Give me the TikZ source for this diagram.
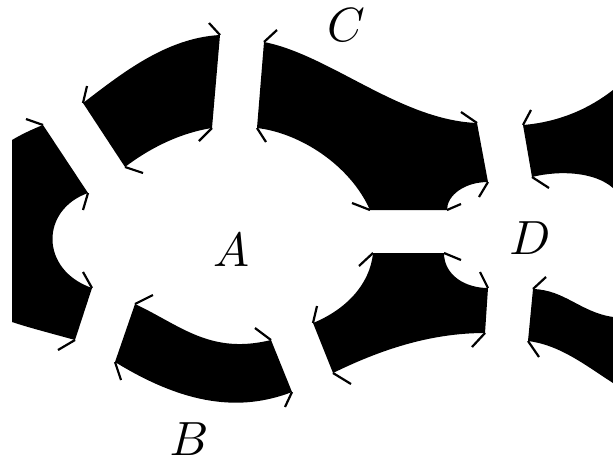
\documentclass[tikz,border=0pt]{standalone}
\begin{document}
\begin{tikzpicture}[x=1pt,y=-1pt,
  band/.style={fill=black},
  tick/.style={line width=2.2pt},
  lbl/.style={inner sep=0pt,scale=4.8}]
\useasboundingbox (0,0) rectangle (613,461);
% left band
\fill[band] (12,140) .. controls (22,134) and (33,129) .. (43,125) -- (88,193)
  .. controls (40,210) and (40,270) .. (92,288) -- (75,340)
  .. controls (50,333) and (30,328) .. (12,322) -- cycle;
% upper-left band
\fill[band] (83,103) .. controls (120,75) and (165,38) .. (220,35) -- (212,128)
  .. controls (180,133) and (150,148) .. (125,167) -- cycle;
% C band
\fill[band] (264,42) .. controls (330,55) and (400,120) .. (477,123) -- (488,182)
  .. controls (465,182) and (447,195) .. (447,210) -- (370,210)
  .. controls (350,165) and (300,133) .. (257,128) -- cycle;
% B band
\fill[band] (135,304) .. controls (180,325) and (210,355) .. (271,340) -- (292,392)
  .. controls (240,412) and (185,405) .. (115,362) -- cycle;
% lower middle band
\fill[band] (373,253) -- (444,253) .. controls (444,275) and (465,288) .. (488,288)
  -- (485,333) .. controls (430,333) and (380,350) .. (333,373) -- (313,323)
  .. controls (345,310) and (370,285) .. (373,253) -- cycle;
% upper right band
\fill[band] (523,125) .. controls (560,122) and (590,108) .. (613,90) -- (613,188)
  .. controls (595,172) and (560,170) .. (532,177) -- cycle;
% lower right band
\fill[band] (533,289) .. controls (565,290) and (580,312) .. (613,317) -- (613,383)
  .. controls (585,365) and (560,345) .. (528,341) -- cycle;
% ticks
\draw[tick] (43,125) -- (26,119);
\draw[tick] (88,193) -- (83,210);
\draw[tick] (92,288) -- (83,272);
\draw[tick] (75,340) -- (58,350);
\draw[tick] (83,103) -- (87,86);
\draw[tick] (220,35) -- (209,23);
\draw[tick] (212,128) -- (199,141);
\draw[tick] (125,167) -- (143,173);
\draw[tick] (264,42) -- (277,30);
\draw[tick] (477,123) -- (461,112);
\draw[tick] (488,182) -- (479,197);
\draw[tick] (447,210) -- (461,204);
\draw[tick] (370,210) -- (352,203);
\draw[tick] (257,128) -- (266,142);
\draw[tick] (135,304) -- (153,295);
\draw[tick] (271,340) -- (255,328);
\draw[tick] (292,392) -- (285,407);
\draw[tick] (115,362) -- (121,380);
\draw[tick] (373,253) -- (359,266);
\draw[tick] (444,253) -- (461,260);
\draw[tick] (488,288) -- (480,272);
\draw[tick] (485,333) -- (472,347);
\draw[tick] (333,373) -- (351,384);
\draw[tick] (313,323) -- (317,306);
\draw[tick] (523,125) -- (531,110);
\draw[tick] (532,177) -- (549,188);
\draw[tick] (533,289) -- (546,277);
\draw[tick] (528,341) -- (539,357);
% labels
\node[lbl] (A) at (231,250) {$A$};
\node[lbl] (B) at (189,439) {$B$};
\node[lbl] (C) at (346,25) {$C$};
\node[lbl] (D) at (530,238) {$D$};
\end{tikzpicture}
\end{document}
